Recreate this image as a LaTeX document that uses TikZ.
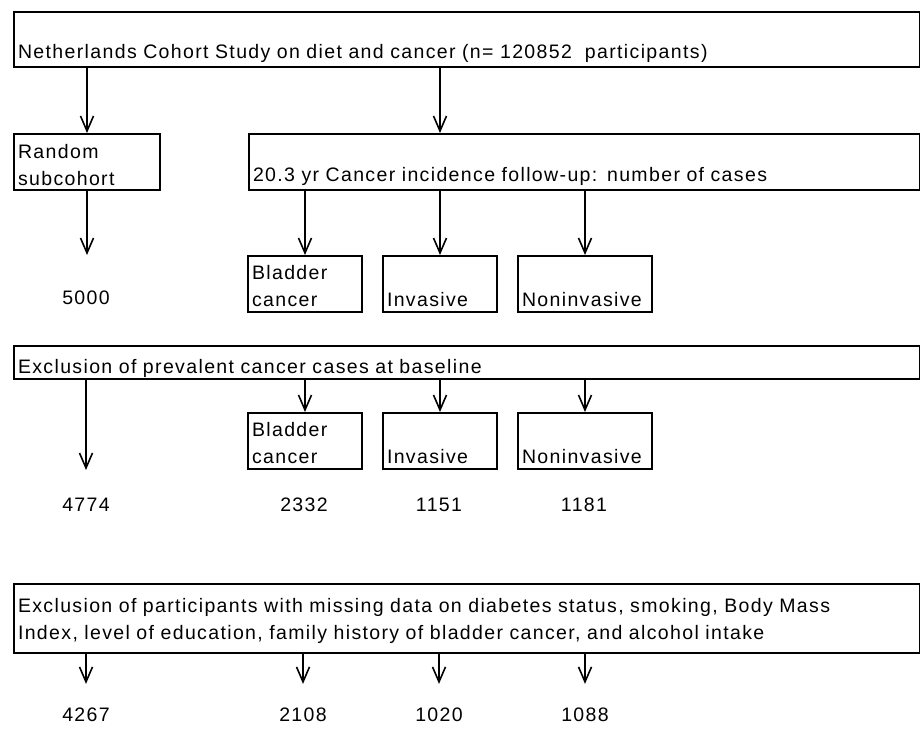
\documentclass[tikz,border=0pt]{standalone}
\usepackage{fontspec}
\setmainfont[LetterSpace=7]{Liberation Sans}
\usetikzlibrary{arrows.meta,positioning}

\begin{document}
\begin{tikzpicture}[
  x=1pt, y=-1pt,
  every node/.style={font=\fontsize{19.5}{27}\selectfont},
  cell/.style 2 args={draw, line width=2pt, anchor=north west, align=left,
    inner xsep=4pt, inner ysep=2pt, text height=#1, text depth=#2},
  num/.style={inner sep=0pt},
  arr/.style={-{Straight Barb[length=15pt,width=13pt]}, line width=1.6pt}
]
\useasboundingbox (0,0) rectangle (920,733);
% boxes, top to bottom
\node[cell={45pt}{6pt}, minimum width=906pt, minimum height=55pt, text width=898pt]
  (cohort) at (13,11) {Netherlands Cohort Study on diet and cancer (n= 120852~ participants)};
\node[cell={22pt}{30pt}, minimum width=146pt, minimum height=56pt, text width=138pt]
  (random) at (13,133) {Random\\subcohort};
\node[cell={45pt}{7pt}, minimum width=671pt, minimum height=56pt, text width=663pt]
  (followup) at (248,133) {20.3 yr Cancer incidence follow-up: number of cases};
\node[cell={21pt}{31pt}, minimum width=114pt, minimum height=56pt, text width=106pt]
  (bc1) at (247,255) {Bladder\\cancer};
\node[cell={48pt}{4pt}, minimum width=114pt, minimum height=56pt, text width=106pt]
  (inv1) at (382,255) {Invasive};
\node[cell={48pt}{4pt}, minimum width=134pt, minimum height=56pt, text width=126pt]
  (non1) at (517,255) {Noninvasive};
\node[cell={25pt}{4pt}, minimum width=906pt, minimum height=33pt, text width=898pt]
  (excl1) at (13,345) {Exclusion of prevalent cancer cases at baseline};
\node[cell={21pt}{31pt}, minimum width=114pt, minimum height=56pt, text width=106pt]
  (bc2) at (247,412) {Bladder\\cancer};
\node[cell={48pt}{4pt}, minimum width=114pt, minimum height=56pt, text width=106pt]
  (inv2) at (382,412) {Invasive};
\node[cell={48pt}{4pt}, minimum width=134pt, minimum height=56pt, text width=126pt]
  (non2) at (517,412) {Noninvasive};
\node[cell={26pt}{39pt}, minimum width=906pt, minimum height=69pt, text width=898pt]
  (excl2) at (13,583) {Exclusion of participants with missing data on diabetes status, smoking, Body Mass\\
  Index, level of education, family history of bladder cancer, and alcohol intake};
% counts
\node[num] (n5000) at (86,298) {5000};
\node[num] (n4774) at (86,505) {4774};
\node[num] (n2332) at (304,505) {2332};
\node[num] (n1151) at (439,505) {1151};
\node[num] (n1181) at (584,505) {1181};
\node[num] (n4267) at (86,715) {4267};
\node[num] (n2108) at (303,715) {2108};
\node[num] (n1020) at (439,715) {1020};
\node[num] (n1088) at (585,715) {1088};
% arrows
\draw[arr] (cohort.south -| random.north) -- (random.north);
\draw[arr] (cohort.south -| inv1.north) -- (followup.north -| inv1.north);
\draw[arr] (random.south) -- (random.south |- bc1.north);
\foreach \b in {bc1,inv1,non1}
  \draw[arr] (followup.south -| \b.north) -- (\b.north);
\draw[arr] (excl1.south -| n4774.north) -- (n4774.north |- bc2.south);
\foreach \b in {bc2,inv2,non2}
  \draw[arr] (excl1.south -| \b.north) -- (\b.north);
\foreach \n in {n4267,n2108,n1020,n1088}
  \draw[arr, shorten >=24pt] (excl2.south -| \n.north) -- (\n.north);
\end{tikzpicture}
\end{document}
